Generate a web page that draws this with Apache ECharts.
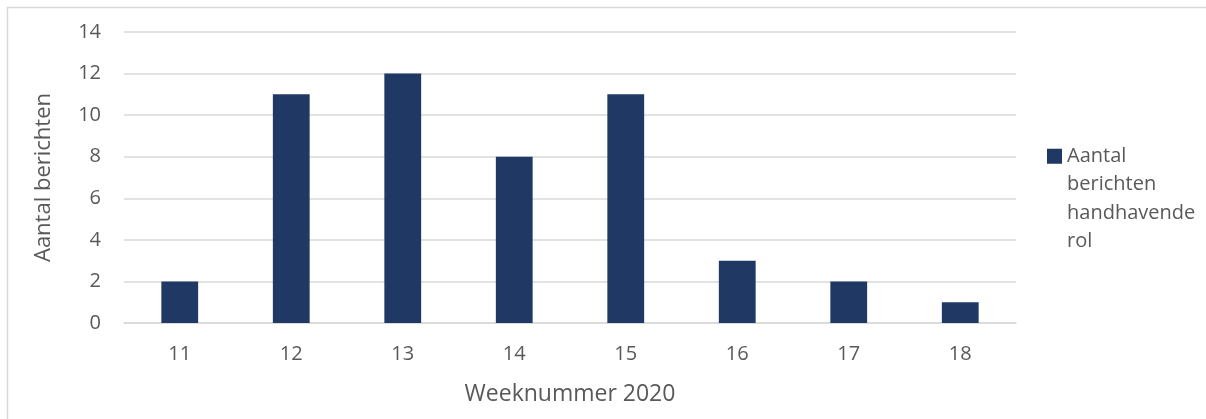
<!DOCTYPE html>
<html><head><meta charset="utf-8">
<script src="https://cdn.jsdelivr.net/npm/echarts@6/dist/echarts.min.js"></script>
<style>html,body{margin:0;padding:0;background:#fff}#c{width:1206px;height:419px}</style>
</head><body><div id="c"></div>
<script>
const categories = ['11','12','13','14','15','16','17','18'];
const values = [2, 11, 12, 8, 11, 3, 2, 1];
const seriesName = 'Aantal berichten handhavende rol';
const legendLines = ['Aantal', 'berichten', 'handhavende', 'rol'];
const yTicks = { min: 0, max: 14, interval: 2 };

const FONT = 'Open Sans';
const LH = 28.5;
const blockH = LH * legendLines.length;
const chart = echarts.init(document.getElementById('c'), null, {renderer: 'canvas'});
chart.setOption({
  animation: false,
  textStyle: { fontFamily: FONT },
  graphic: [{
    type: 'rect', shape: { x: 7.5, y: 7.5, width: 1230, height: 430 },
    style: { fill: 'none', stroke: '#d9d9d9', lineWidth: 1.5 }, silent: true
  }],
  grid: { left: 124, right: 190, top: 32, bottom: 96, containLabel: false },
  legend: {
    data: [{ name: seriesName,
      icon: 'path://M0,0L15,0M0,6.75L15,6.75L15,21.75L0,21.75ZM0,' + blockH + 'L15,' + blockH }],
    left: 1047, top: 142, padding: 0, orient: 'vertical',
    itemWidth: 15, itemHeight: blockH, itemGap: 4,
    formatter: () => legendLines.join('\n'),
    textStyle: { fontFamily: FONT, fontSize: 20, color: '#595959', lineHeight: LH }
  },
  xAxis: {
    type: 'category', data: categories,
    name: 'Weeknummer 2020', nameLocation: 'middle', nameGap: 60,
    nameTextStyle: { fontFamily: FONT, fontSize: 23, color: '#595959' },
    axisLine: { lineStyle: { color: '#d9d9d9', width: 1.5 } },
    axisTick: { show: false },
    axisLabel: { fontFamily: FONT, fontSize: 20, color: '#595959', margin: 21 }
  },
  yAxis: {
    type: 'value', min: yTicks.min, max: yTicks.max, interval: yTicks.interval,
    name: 'Aantal berichten', nameLocation: 'middle', nameGap: 69, nameRotate: 90,
    nameTextStyle: { fontFamily: FONT, fontSize: 22, color: '#595959' },
    axisLine: { show: false }, axisTick: { show: false },
    axisLabel: { fontFamily: FONT, fontSize: 20, color: '#595959', margin: 23 },
    splitLine: { lineStyle: { color: '#d9d9d9', width: 1.5 } }
  },
  series: [{
    name: seriesName, type: 'bar', data: values, barWidth: '33%',
    itemStyle: { color: '#203864' }
  }]
});
</script></body></html>
